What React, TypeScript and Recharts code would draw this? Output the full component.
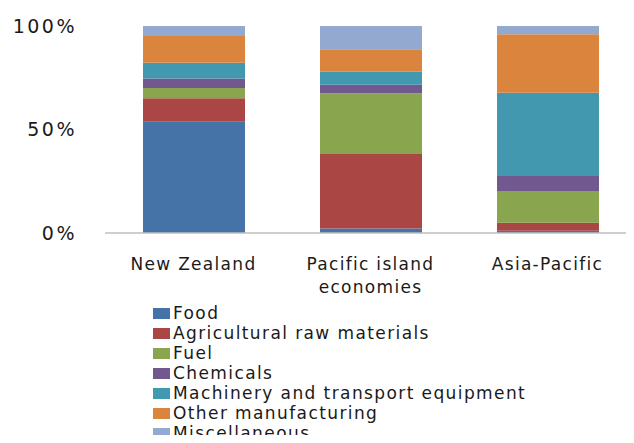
import React from 'react';
import { BarChart, Bar, XAxis, YAxis, Legend, Text } from 'recharts';

const categories = ['New Zealand', 'Pacific island economies', 'Asia-Pacific'];

const food = [53.7, 2.2, 1.1];
const agricultural = [11.4, 35.9, 3.9];
const fuel = [5.0, 29.4, 15.3];
const chemicals = [4.5, 4.0, 7.2];
const machinery = [7.7, 6.3, 40.3];
const otherManufacturing = [12.9, 10.9, 28.2];
const miscellaneous = [4.8, 11.2, 4.0];

const yTicks = [0, 0.5, 1];

const series = [
  { key: 'food', name: 'Food', values: food, color: '#4572A7' },
  { key: 'agri', name: 'Agricultural raw materials', values: agricultural, color: '#AA4643' },
  { key: 'fuel', name: 'Fuel', values: fuel, color: '#89A54E' },
  { key: 'chem', name: 'Chemicals', values: chemicals, color: '#71588F' },
  { key: 'mach', name: 'Machinery and transport equipment', values: machinery, color: '#4198AF' },
  { key: 'other', name: 'Other manufacturing', values: otherManufacturing, color: '#DB843D' },
  { key: 'misc', name: 'Miscellaneous', values: miscellaneous, color: '#93A9CF' },
];

const data = categories.map((name, i) => {
  const row: any = { name };
  series.forEach((s) => {
    row[s.key] = s.values[i];
  });
  return row;
});

const FONT = '"DejaVu Sans", sans-serif';

function CategoryTick(props: any) {
  const { x, y, payload } = props;
  return (
    <Text
      x={x}
      y={y + 17}
      width={150}
      textAnchor="middle"
      verticalAnchor="start"
      lineHeight={23}
      style={{ fontFamily: FONT, fontSize: 17, letterSpacing: 1.3, fill: '#1a1a1a' }}
    >
      {payload.value}
    </Text>
  );
}

// legend keeps the series order (recharts would sort it by name)
function LegendBox() {
  return (
    <div style={{ height: 140, fontFamily: FONT, fontSize: 17, letterSpacing: 1.4, color: '#1a1a1a' }}>
      {series.map((s) => (
        <div key={s.key} style={{ display: 'flex', alignItems: 'center', height: 20, lineHeight: '20px', whiteSpace: 'nowrap' }}>
          <span style={{ display: 'inline-block', width: 17, height: 11, background: s.color, marginRight: 3 }} />
          <span>{s.name}</span>
        </div>
      ))}
    </div>
  );
}

export default function App() {
  return (
    <div style={{ margin: -8, width: 634, height: 443, overflow: 'hidden', background: '#fff' }}>
      <BarChart
        width={637}
        height={443}
        data={data}
        stackOffset="expand"
        margin={{ top: 26, right: 1, left: 0, bottom: 14 }}
      >
        <XAxis
          dataKey="name"
          height={56}
          tickLine={false}
          axisLine={{ stroke: '#bfbfbf', strokeWidth: 1.5 }}
          tick={<CategoryTick />}
          interval={0}
        />
        <YAxis
          width={105}
          domain={[0, 1]}
          ticks={yTicks}
          axisLine={false}
          tickLine={false}
          tickSize={0}
          tickMargin={28}
          tickFormatter={(v: number) => `${Math.round(v * 100)}%`}
          tick={{ fontFamily: FONT, fontSize: 19, letterSpacing: 2.5, fill: '#1a1a1a' }}
        />
        <Legend
          layout="vertical"
          align="center"
          verticalAlign="bottom"
          content={<LegendBox />}
          wrapperStyle={{ left: 153, top: 303, bottom: 'auto', width: 'auto' }}
        />
        {series.map((s) => (
          <Bar
            key={s.key}
            dataKey={s.key}
            name={s.name}
            stackId="a"
            fill={s.color}
            barSize={102}
            isAnimationActive={false}
          />
        ))}
      </BarChart>
    </div>
  );
}
